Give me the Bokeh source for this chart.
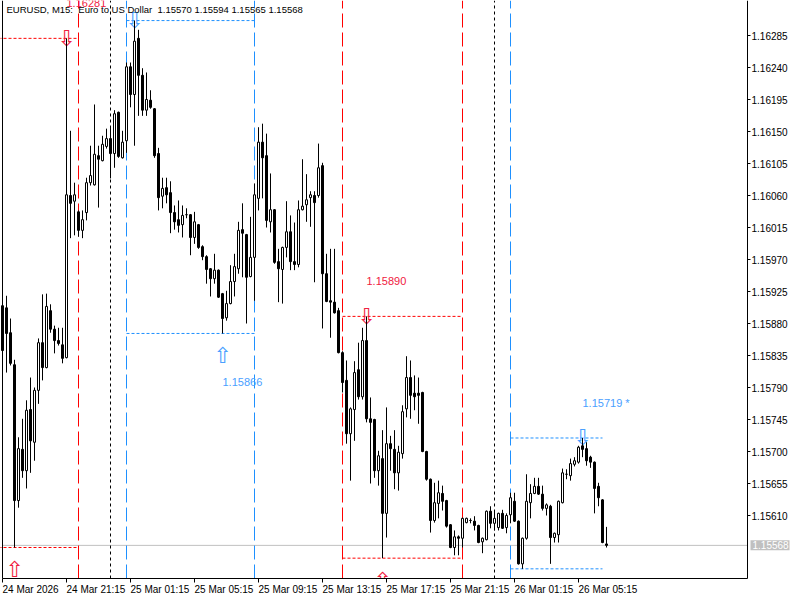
from bokeh.plotting import figure
from bokeh.models import ColumnDataSource, Range1d
from bokeh.core.properties import value
from bokeh.embed import file_html
from bokeh.resources import INLINE

# ---- EURUSD M15 quotes, 24 Mar 17:15 .. 26 Mar 07:00 ----
NB2 = "\u00a0\u00a0"
header_text = f"EURUSD, M15:{NB2}Euro to US Dollar{NB2}1.15570 1.15594 1.15565 1.15568"

opens = [
    1.15905, 1.15902, 1.15867, 1.15822, 1.15631, 1.15703, 1.15673, 1.15759, 1.15713, 1.15786,
    1.15853, 1.15818, 1.15898, 1.15872, 1.15856, 1.15850, 1.15832, 1.16060, 1.16052, 1.16037,
    1.16011, 1.16036, 1.16078, 1.16075, 1.16116, 1.16109, 1.16129, 1.16140, 1.16119, 1.16177,
    1.16113, 1.16137, 1.16241, 1.16202, 1.16281, 1.16229, 1.16180, 1.16194, 1.16182, 1.16119,
    1.16059, 1.16071, 1.16064, 1.16036, 1.16026, 1.16019, 1.16033, 1.16033, 1.16001, 1.16019,
    1.15988, 1.15974, 1.15957, 1.15943, 1.15955, 1.15922, 1.15888, 1.15908, 1.15939, 1.15957,
    1.16012, 1.16005, 1.15946, 1.15973, 1.16056, 1.16135, 1.16116, 1.16023, 1.16040, 1.15967,
    1.15956, 1.15987, 1.16009, 1.15967, 1.15963, 1.16040, 1.16047, 1.16057, 1.16060, 1.16060,
    1.16102, 1.15950, 1.15912, 1.15910, 1.15898, 1.15839, 1.15800, 1.15725, 1.15759, 1.15815,
    1.15777, 1.15856, 1.15746, 1.15745, 1.15673, 1.15690, 1.15613, 1.15711, 1.15703, 1.15670,
    1.15697, 1.15760, 1.15804, 1.15782, 1.15782, 1.15783, 1.15700, 1.15661, 1.15603, 1.15627,
    1.15641, 1.15631, 1.15597, 1.15565, 1.15580, 1.15578, 1.15600, 1.15603, 1.15602, 1.15596,
    1.15573, 1.15576, 1.15616, 1.15599, 1.15593, 1.15613, 1.15593, 1.15611, 1.15630, 1.15602,
    1.15542, 1.15578, 1.15628, 1.15641, 1.15651, 1.15640, 1.15620, 1.15623, 1.15579, 1.15583,
    1.15628, 1.15668, 1.15666, 1.15682, 1.15685, 1.15708, 1.15704, 1.15692, 1.15685, 1.15651,
    1.15632, 1.15570,
]
highs = [
    1.15919, 1.15919, 1.15887, 1.15829, 1.15720, 1.15746, 1.15772, 1.15804, 1.15790, 1.15859,
    1.15921, 1.15922, 1.15907, 1.15877, 1.15874, 1.15874, 1.16281, 1.16151, 1.16078, 1.16039,
    1.16039, 1.16085, 1.16130, 1.16188, 1.16130, 1.16144, 1.16154, 1.16156, 1.16180, 1.16178,
    1.16151, 1.16247, 1.16247, 1.16306, 1.16293, 1.16239, 1.16233, 1.16208, 1.16183, 1.16127,
    1.16085, 1.16085, 1.16080, 1.16046, 1.16053, 1.16046, 1.16042, 1.16034, 1.16037, 1.16020,
    1.15990, 1.15976, 1.15958, 1.15978, 1.15956, 1.15923, 1.15926, 1.15962, 1.15978, 1.16023,
    1.16049, 1.16006, 1.16030, 1.16077, 1.16156, 1.16161, 1.16147, 1.16091, 1.16041, 1.15985,
    1.15988, 1.16052, 1.16032, 1.16022, 1.16053, 1.16111, 1.16090, 1.16066, 1.16066, 1.16133,
    1.16106, 1.15978, 1.15985, 1.15985, 1.15902, 1.15841, 1.15828, 1.15762, 1.15827, 1.15853,
    1.15874, 1.15890, 1.15776, 1.15746, 1.15701, 1.15730, 1.15762, 1.15722, 1.15730, 1.15708,
    1.15765, 1.15834, 1.15828, 1.15807, 1.15804, 1.15784, 1.15701, 1.15662, 1.15656, 1.15659,
    1.15652, 1.15632, 1.15598, 1.15589, 1.15582, 1.15607, 1.15607, 1.15606, 1.15609, 1.15597,
    1.15579, 1.15617, 1.15623, 1.15617, 1.15614, 1.15618, 1.15613, 1.15642, 1.15642, 1.15603,
    1.15579, 1.15668, 1.15654, 1.15663, 1.15663, 1.15652, 1.15627, 1.15625, 1.15586, 1.15631,
    1.15676, 1.15675, 1.15690, 1.15692, 1.15708, 1.15719, 1.15713, 1.15694, 1.15686, 1.15656,
    1.15633, 1.15594,
]
lows = [
    1.15835, 1.15811, 1.15821, 1.15565, 1.15621, 1.15663, 1.15648, 1.15670, 1.15687, 1.15767,
    1.15800, 1.15817, 1.15867, 1.15838, 1.15849, 1.15824, 1.15831, 1.16000, 1.16004, 1.16002,
    1.16000, 1.16025, 1.16074, 1.16074, 1.16043, 1.16108, 1.16126, 1.16084, 1.16099, 1.16113,
    1.16112, 1.16120, 1.16184, 1.16130, 1.16172, 1.16172, 1.16172, 1.16182, 1.16113, 1.16039,
    1.16042, 1.16049, 1.16007, 1.16012, 1.16008, 1.16001, 1.16028, 1.15976, 1.15992, 1.15985,
    1.15969, 1.15936, 1.15918, 1.15936, 1.15916, 1.15866, 1.15884, 1.15907, 1.15918, 1.15950,
    1.15945, 1.15880, 1.15945, 1.15912, 1.16039, 1.16056, 1.16015, 1.16008, 1.15964, 1.15910,
    1.15908, 1.15973, 1.15955, 1.15955, 1.15959, 1.16039, 1.16023, 1.16016, 1.15938, 1.16057,
    1.15873, 1.15910, 1.15860, 1.15894, 1.15838, 1.15783, 1.15711, 1.15659, 1.15715, 1.15773,
    1.15773, 1.15741, 1.15655, 1.15663, 1.15652, 1.15550, 1.15579, 1.15673, 1.15647, 1.15645,
    1.15690, 1.15748, 1.15746, 1.15758, 1.15739, 1.15699, 1.15659, 1.15586, 1.15600, 1.15606,
    1.15617, 1.15593, 1.15564, 1.15554, 1.15554, 1.15565, 1.15599, 1.15599, 1.15589, 1.15571,
    1.15557, 1.15575, 1.15592, 1.15589, 1.15589, 1.15591, 1.15585, 1.15599, 1.15601, 1.15541,
    1.15535, 1.15576, 1.15606, 1.15640, 1.15639, 1.15617, 1.15610, 1.15542, 1.15572, 1.15572,
    1.15627, 1.15661, 1.15659, 1.15679, 1.15683, 1.15692, 1.15680, 1.15677, 1.15613, 1.15623,
    1.15571, 1.15565,
]
closes = [
    1.15842, 1.15866, 1.15824, 1.15631, 1.15704, 1.15673, 1.15758, 1.15715, 1.15786, 1.15853,
    1.15818, 1.15904, 1.15872, 1.15856, 1.15852, 1.15831, 1.16061, 1.16049, 1.16061, 1.16011,
    1.16026, 1.16078, 1.16088, 1.16118, 1.16111, 1.16132, 1.16140, 1.16119, 1.16175, 1.16115,
    1.16135, 1.16241, 1.16202, 1.16277, 1.16229, 1.16180, 1.16195, 1.16184, 1.16116, 1.16057,
    1.16070, 1.16061, 1.16036, 1.16023, 1.16018, 1.16032, 1.16033, 1.16001, 1.16023, 1.15987,
    1.15974, 1.15956, 1.15943, 1.15955, 1.15917, 1.15887, 1.15908, 1.15939, 1.15960, 1.16011,
    1.16007, 1.15945, 1.15973, 1.16061, 1.16135, 1.16113, 1.16025, 1.16040, 1.15966, 1.15957,
    1.15987, 1.16009, 1.15967, 1.15963, 1.16040, 1.16045, 1.16054, 1.16061, 1.16050, 1.16099,
    1.15950, 1.15911, 1.15910, 1.15895, 1.15839, 1.15797, 1.15725, 1.15760, 1.15811, 1.15777,
    1.15856, 1.15746, 1.15741, 1.15673, 1.15694, 1.15613, 1.15711, 1.15704, 1.15670, 1.15699,
    1.15756, 1.15804, 1.15779, 1.15777, 1.15779, 1.15700, 1.15661, 1.15603, 1.15628, 1.15642,
    1.15630, 1.15595, 1.15565, 1.15580, 1.15578, 1.15606, 1.15606, 1.15603, 1.15596, 1.15572,
    1.15578, 1.15616, 1.15599, 1.15606, 1.15613, 1.15592, 1.15610, 1.15635, 1.15602, 1.15542,
    1.15578, 1.15630, 1.15641, 1.15651, 1.15640, 1.15620, 1.15625, 1.15579, 1.15585, 1.15630,
    1.15670, 1.15668, 1.15683, 1.15687, 1.15706, 1.15703, 1.15687, 1.15685, 1.15648, 1.15635,
    1.15572, 1.15568,
]

# time scale: one label every 16 bars (4 hours)
time_tick_bars = [0, 16, 32, 48, 64, 80, 96, 112, 128, 144]
time_tick_labels = ["24 Mar 2026", "24 Mar 21:15", "25 Mar 01:15", "25 Mar 05:15",
                    "25 Mar 09:15", "25 Mar 13:15", "25 Mar 17:15", "25 Mar 21:15",
                    "26 Mar 01:15", "26 Mar 05:15"]
price_ticks = [1.15610, 1.15655, 1.15700, 1.15745, 1.15790, 1.15835, 1.15880, 1.15925,
               1.15970, 1.16015, 1.16060, 1.16105, 1.16150, 1.16195, 1.16240, 1.16285]

# trading sessions as bar ranges: first bar, bar of the closing line, colour, still open
session_first = [-11, 31, 85, 127]
session_close = [19, 63, 115, 159]
session_colour = ["#ff0000", "#1e90ff", "#ff0000", "#1e90ff"]
session_text_colour = ["#f02040", "#4aa0ff", "#f02040", "#4aa0ff"]
session_live = [False, False, False, True]
day_breaks = [27, 123]

UI_FONT = "Liberation Sans"

# chart-window geometry (pixels) and scale
PX_PER_BAR = 4.0
PX_PER_PRICE = 32 / 0.00045
BAR0_PX = 2
TOP_TICK_PX = 35
CHART_RIGHT_PX = 747
CHART_BOTTOM_PX = 578

# marker placement relative to a session extreme (pixels)
ARROW_BELOW_LOW = 22
LABEL_ABOVE_HIGH = 35
LABEL_BELOW_LOW = 49

n = len(closes)
bars = list(range(n))

x_start = -BAR0_PX / PX_PER_BAR
x_end = x_start + 800 / PX_PER_BAR
y_end = price_ticks[-1] + TOP_TICK_PX / PX_PER_PRICE
y_start = y_end - 600 / PX_PER_PRICE
chart_left = 0
chart_right = x_start + CHART_RIGHT_PX / PX_PER_BAR
chart_top = y_end
chart_bottom = y_end - CHART_BOTTOM_PX / PX_PER_PRICE


def row_of(price):
    """Pixel row of a price inside the chart window."""
    return (y_end - price) * PX_PER_PRICE


def in_window(row, half_height):
    return row + half_height > 0 and row - half_height < CHART_BOTTOM_PX


p = figure(width=800, height=600, min_border=0, x_range=Range1d(x_start, x_end),
           y_range=Range1d(y_start, y_end), x_axis_location=None, y_axis_location=None,
           toolbar_location=None, output_backend="svg", background_fill_color="white",
           border_fill_color="white")
p.outline_line_color = None
p.xgrid.visible = False
p.ygrid.visible = False

# bid line
p.segment(x0=[chart_left], y0=[closes[-1]], x1=[chart_right], y1=[closes[-1]],
          line_color="#c0c0c0", line_width=1)

# day separators
p.segment(x0=day_breaks, y0=[chart_bottom] * len(day_breaks), x1=day_breaks,
          y1=[chart_top] * len(day_breaks), line_color="black", line_width=1, line_dash="3 3")

# session boxes with their high / low markers
for s, e, col, tcol, live in zip(session_first, session_close, session_colour,
                                 session_text_colour, session_live):
    first = max(s, 0)
    last = min(e - 1, n - 1)
    seg = range(first, last + 1)
    hi_bar = max(seg, key=lambda i: highs[i])
    lo_bar = min(seg, key=lambda i: lows[i])
    hi, lo = highs[hi_bar], lows[lo_bar]
    right = last - 1 if live else e
    p.segment(x0=[s, s], y0=[hi, lo], x1=[right, right], y1=[hi, lo],
              line_color=col, line_width=1, line_dash="3 2")
    edges = [s] if live else [s, e]
    p.segment(x0=edges, y0=[chart_bottom] * len(edges), x1=edges, y1=[chart_top] * len(edges),
              line_color=col, line_width=1, line_dash="14 5")
    tag = " *" if live else ""
    arrow_kw = dict(text_align="center", text_baseline="middle", text_color=tcol,
                    text_font=value("DejaVu Sans"), text_font_size="22px")
    label_kw = dict(text_align="left", text_baseline="middle", text_color=tcol,
                    text_font=value(UI_FONT), text_font_size="11px")
    if in_window(row_of(hi), 8):
        p.text(x=[hi_bar], y=[hi], text=["\u21e9"], **arrow_kw)
    if in_window(row_of(lo) + ARROW_BELOW_LOW, 8):
        p.text(x=[lo_bar], y=[lo], text=["\u21e7"], y_offset=ARROW_BELOW_LOW, **arrow_kw)
    if in_window(row_of(hi) - LABEL_ABOVE_HIGH, 6):
        p.text(x=[hi_bar], y=[hi], text=[f"{hi:.5f}{tag}"], y_offset=-LABEL_ABOVE_HIGH,
               **label_kw)
    if in_window(row_of(lo) + LABEL_BELOW_LOW, 6):
        p.text(x=[lo_bar], y=[lo], text=[f"{lo:.5f}{tag}"], y_offset=LABEL_BELOW_LOW,
               **label_kw)

# candles
src = ColumnDataSource(dict(
    x=bars, o=opens, h=highs, l=lows, c=closes,
    top=[max(a, b) for a, b in zip(opens, closes)],
    bottom=[min(a, b) for a, b in zip(opens, closes)],
    fill=["white" if c > o else "black" for o, c in zip(opens, closes)],
))
p.segment(x0="x", y0="h", x1="x", y1="l", source=src, line_color="black", line_width=1)
p.vbar(x="x", width=2 / PX_PER_BAR, top="top", bottom="bottom", source=src,
       fill_color="fill", line_color="black", line_width=1)

# margins outside the chart window
p.quad(left=[chart_right, x_start], right=[x_end, x_end], bottom=[y_start, y_start],
       top=[y_end, chart_bottom], fill_color="white", line_color=None)

# window frame: left border, time scale line, price scale line
p.segment(x0=[chart_left, chart_left, chart_right], y0=[chart_bottom, chart_bottom, chart_bottom],
          x1=[chart_left, chart_right, chart_right], y1=[chart_top, chart_bottom, chart_top],
          line_color="black", line_width=1)

# price scale
p.segment(x0=[chart_right] * len(price_ticks), y0=price_ticks,
          x1=[chart_right + 3 / PX_PER_BAR] * len(price_ticks), y1=price_ticks,
          line_color="black", line_width=1)
p.text(x=[chart_right] * len(price_ticks), y=price_ticks,
       text=[f"{t:.5f}" for t in price_ticks], x_offset=4, text_align="left",
       text_baseline="middle", text_color="black", text_font=value(UI_FONT),
       text_font_size="10px")

# time scale
p.segment(x0=time_tick_bars, y0=[chart_bottom] * len(time_tick_bars), x1=time_tick_bars,
          y1=[chart_bottom - 4 / PX_PER_PRICE] * len(time_tick_bars),
          line_color="black", line_width=1)
p.text(x=time_tick_bars, y=[chart_bottom] * len(time_tick_bars), text=time_tick_labels,
       y_offset=5, text_align="left", text_baseline="top", text_color="black",
       text_font=value(UI_FONT), text_font_size="10px")

# bid price tag on the price scale
p.quad(left=[chart_right + 3 / PX_PER_BAR], right=[chart_right + 42 / PX_PER_BAR],
       bottom=[closes[-1] - 5 / PX_PER_PRICE], top=[closes[-1] + 5 / PX_PER_PRICE],
       fill_color="#c0c0c0", line_color=None)
p.text(x=[chart_right], y=[closes[-1]], text=[f"{closes[-1]:.5f}"], x_offset=5,
       text_align="left", text_baseline="middle", text_color="white",
       text_font=value(UI_FONT), text_font_size="10px")

# chart header
p.text(x=[chart_left], y=[chart_top], text=[header_text], x_offset=4, y_offset=3,
       text_align="left", text_baseline="top", text_color="black",
       text_font=value(UI_FONT), text_font_size="9.5px")

open("out.html", "w").write(file_html(p, INLINE))
